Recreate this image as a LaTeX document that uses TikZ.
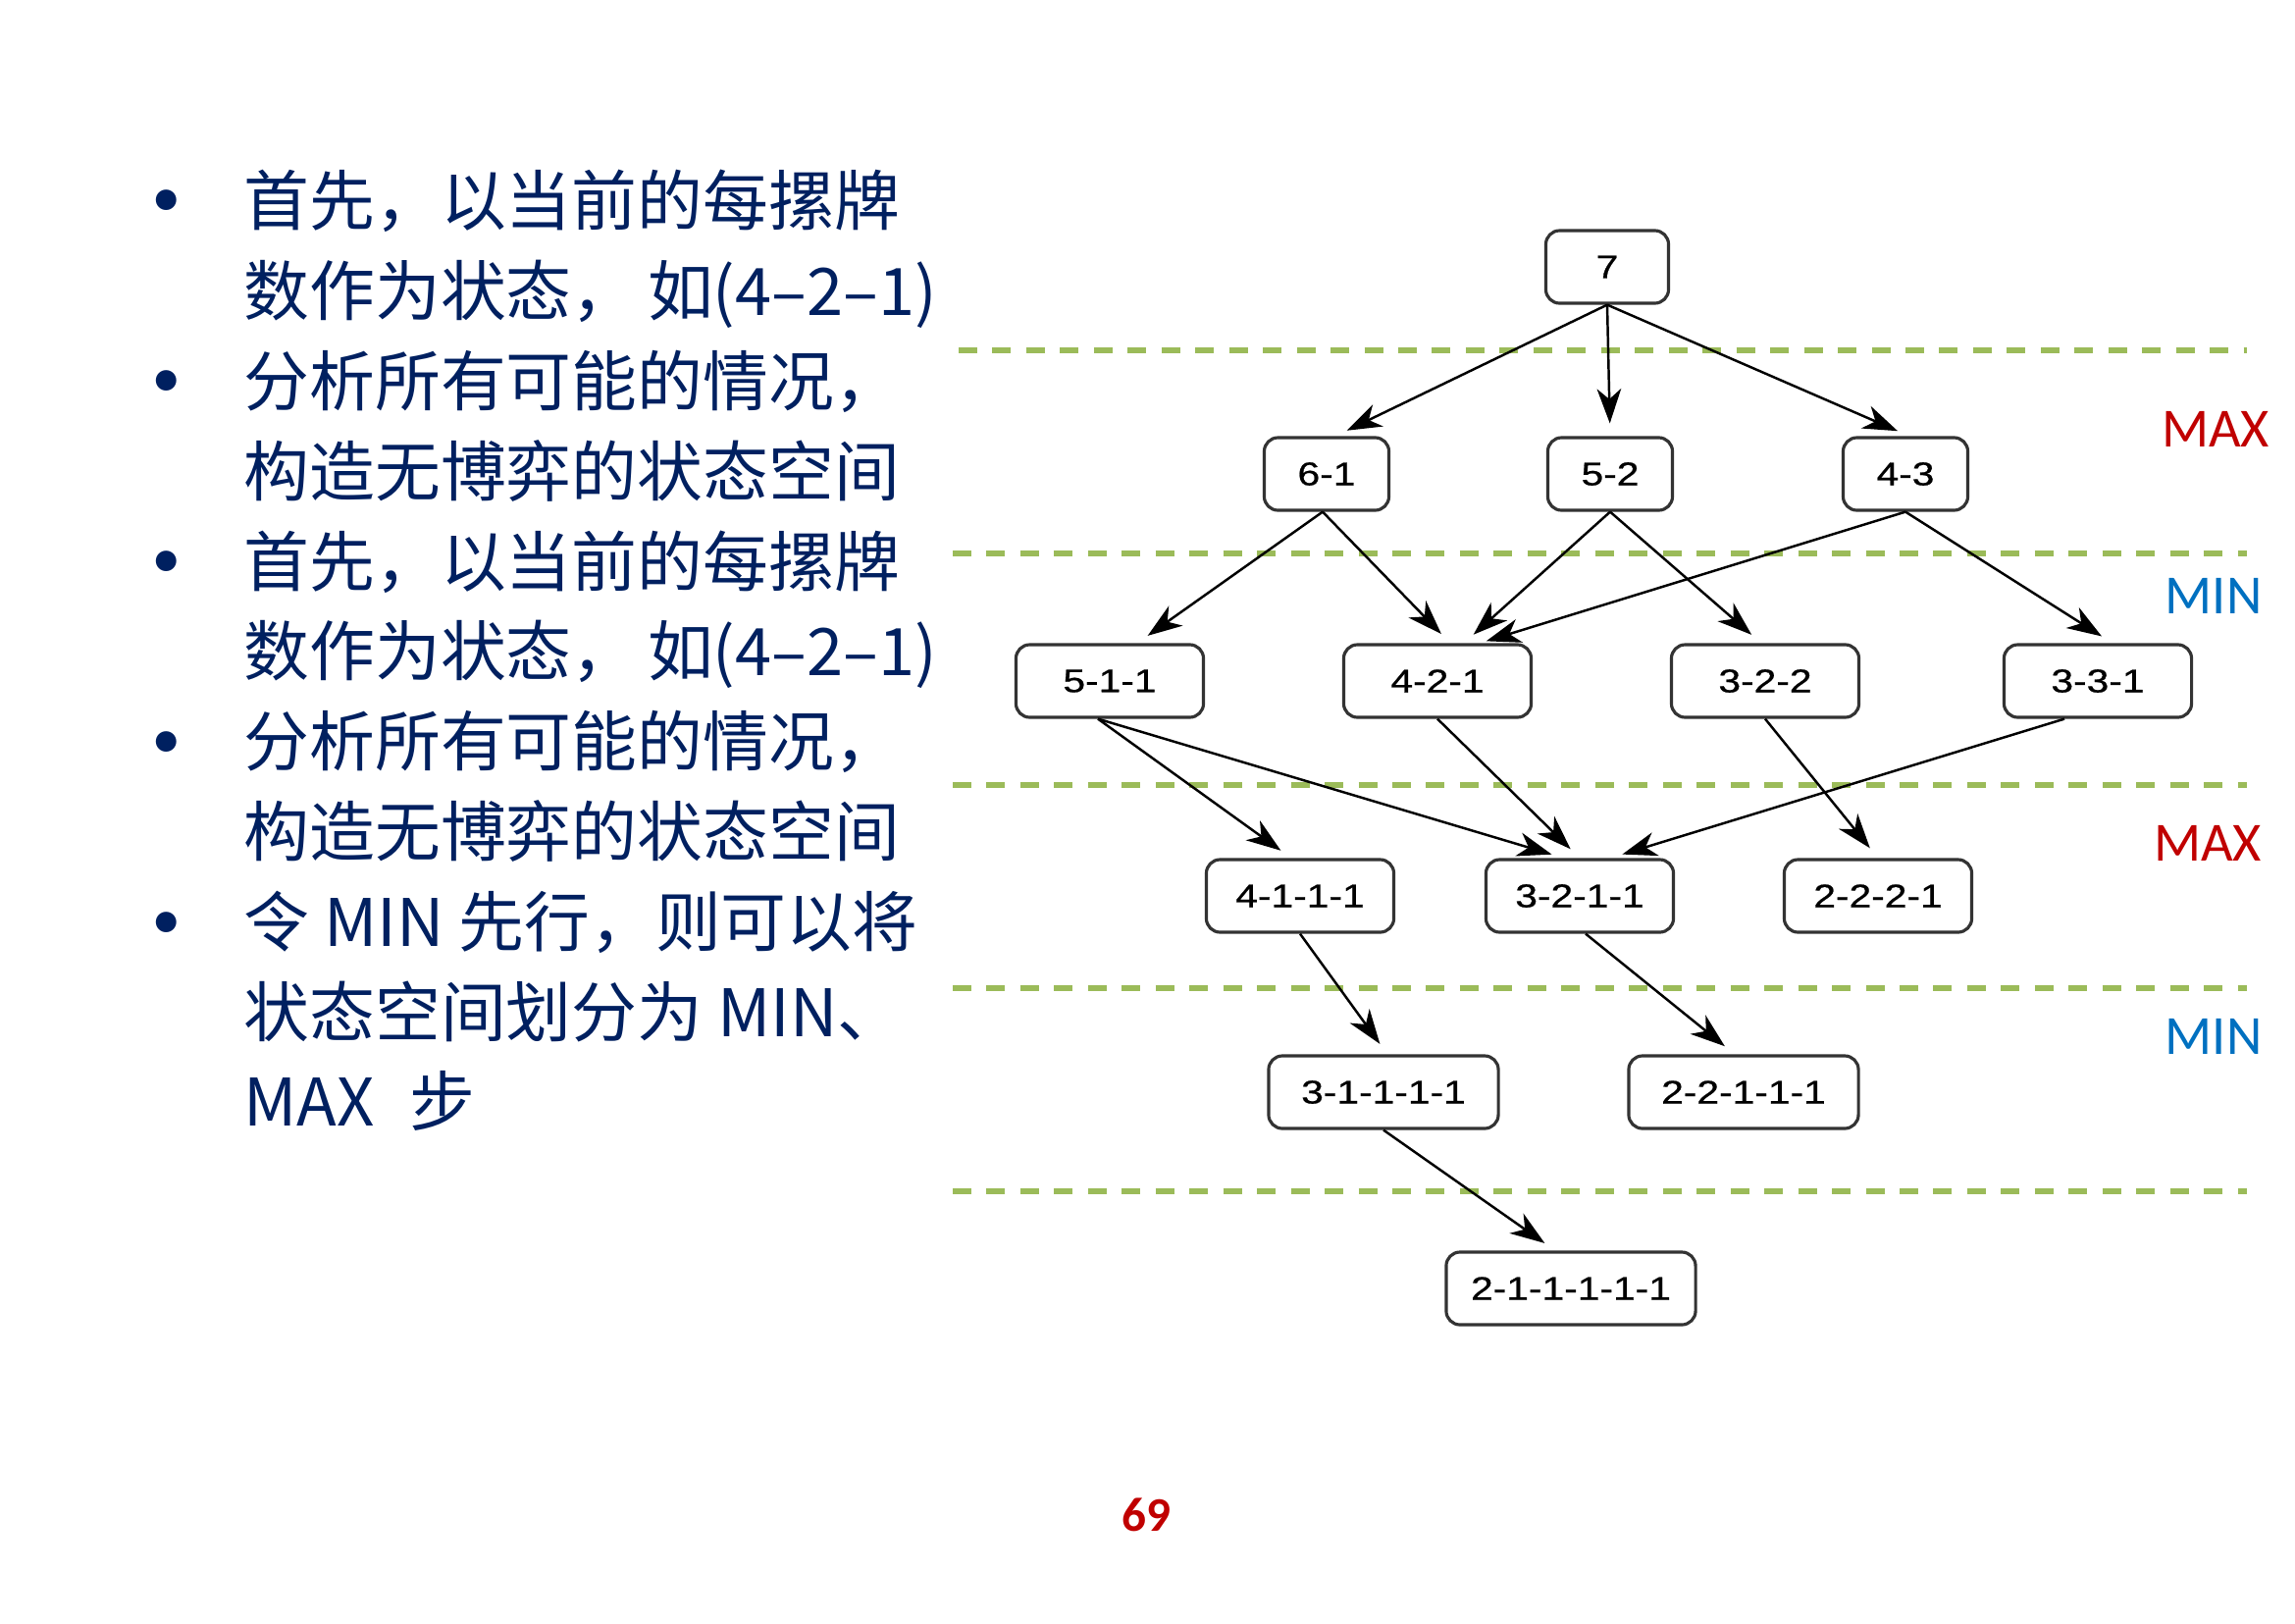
\documentclass[tikz,border=0pt]{standalone}
\usepackage{fontspec}
\setmainfont{Noto Sans CJK SC}
\newfontfamily\boxfont[FakeStretch=1.22,FakeBold=0.6]{Liberation Sans}
\newfontfamily\labfont{Carlito}
\usetikzlibrary{arrows.meta,calc}

\definecolor{navy}{RGB}{0,32,96}
\definecolor{maxred}{RGB}{192,0,0}
\definecolor{minblue}{RGB}{0,112,192}
\definecolor{dashgreen}{RGB}{155,187,89}

\tikzset{
  box/.style={draw=black!80, line width=0.9pt, rounded corners=4pt, fill=white,
    minimum height=0.74cm, inner sep=0pt, font=\boxfont\fontsize{9.5}{11}\selectfont},
  arr/.style={-{Stealth[length=10pt, width=7pt, inset=3pt]}, line width=0.7pt, shorten >=0.13cm},
  sepline/.style={dashgreen, line width=1.5pt, dash pattern=on 5.4pt off 4.4pt},
  txtline/.style={anchor=base west, text=navy, inner sep=0pt, font=\fontsize{19}{23}\selectfont},
  dot/.style={text=navy, inner sep=0pt, font=\fontsize{28}{30}\selectfont},
  maxlab/.style={text=maxred, inner sep=0pt, font=\labfont\fontsize{16}{18}\selectfont},
  minlab/.style={text=minblue, inner sep=0pt, font=\labfont\fontsize{16}{18}\selectfont}
}

\begin{document}
\begin{tikzpicture}[x=0.01cm, y=-0.01cm]
  \useasboundingbox (0,0) rectangle (2339,1654);

  % left text
  \node[dot] (b1) at (170,218) {•};
  \node[dot] (b2) at (170,402) {•};
  \node[dot] (b3) at (170,586) {•};
  \node[dot] (b4) at (170,770) {•};
  \node[dot] (b5) at (170,954) {•};
  \node[txtline] (t1) at (248,229) {首先，以当前的每摞牌};
  \node[txtline] (t2) at (248,321) {数作为状态，\hspace{3pt}如(4–2–1)};
  \node[txtline] (t3) at (248,413) {分析所有可能的情况，};
  \node[txtline] (t4) at (248,505) {构造无博弈的状态空间};
  \node[txtline] (t5) at (248,597) {首先，以当前的每摞牌};
  \node[txtline] (t6) at (248,688) {数作为状态，\hspace{3pt}如(4–2–1)};
  \node[txtline] (t7) at (248,780) {分析所有可能的情况，};
  \node[txtline] (t8) at (248,872) {构造无博弈的状态空间};
  \node[txtline] (t9) at (248,964) {令 MIN 先行，则可以将};
  \node[txtline] (t10) at (248,1056) {状态空间划分为 MIN、};
  \node[txtline] (t11) at (248,1147) {MAX\hspace{10pt}步};

  % level separators
  \draw[sepline] (977,357) -- (2290,357);
  \draw[sepline] (971,564) -- (2290,564);
  \draw[sepline] (971,800) -- (2290,800);
  \draw[sepline] (971,1007) -- (2290,1007);
  \draw[sepline] (971,1214) -- (2290,1214);

  \node[maxlab] (max1) at (2258,437) {MAX};
  \node[minlab] (min1) at (2256,607) {MIN};
  \node[maxlab] (max2) at (2250,859) {MAX};
  \node[minlab] (min2) at (2256,1056) {MIN};

  % states
  \node[box, minimum width=1.25cm] (n7) at (1638,272) {7};
  \node[box, minimum width=1.27cm] (n61) at (1352,483) {6-1};
  \node[box, minimum width=1.27cm] (n52) at (1641,483) {5-2};
  \node[box, minimum width=1.27cm] (n43) at (1942,483) {4-3};
  \node[box, minimum width=1.91cm] (n511) at (1131,694) {5-1-1};
  \node[box, minimum width=1.91cm] (n421) at (1465,694) {4-2-1};
  \node[box, minimum width=1.91cm] (n322) at (1799,694) {3-2-2};
  \node[box, minimum width=1.91cm] (n331) at (2138,694) {3-3-1};
  \node[box, minimum width=1.91cm] (n4111) at (1325,913) {4-1-1-1};
  \node[box, minimum width=1.91cm] (n3211) at (1610,913) {3-2-1-1};
  \node[box, minimum width=1.91cm] (n2221) at (1914,913) {2-2-2-1};
  \node[box, minimum width=2.34cm] (n31111) at (1410,1113) {3-1-1-1-1};
  \node[box, minimum width=2.34cm] (n22111) at (1777,1113) {2-2-1-1-1};
  \node[box, minimum width=2.54cm] (n211111) at (1601,1313) {2-1-1-1-1-1};

  % moves
  \draw[arr] (n7.south) -- ($(n61.north)+(9,0)$);
  \draw[arr] (n7.south) -- (n52.north);
  \draw[arr] (n7.south) -- ($(n43.north)+(4,0)$);
  \draw[arr] ($(n61.south)+(-4,0)$) -- ($(n511.north)+(28,0)$);
  \draw[arr] ($(n61.south)+(-4,0)$) -- ($(n421.north)+(13,0)$);
  \draw[arr] (n52.south) -- ($(n421.north)+(27,0)$);
  \draw[arr] (n52.south) -- ($(n322.north)+(-4,0)$);
  \draw[arr, shorten >=0.07cm] (n43.south) -- ($(n421.north)+(43,0)$);
  \draw[arr] (n43.south) -- ($(n331.north)+(15,0)$);
  \draw[arr] ($(n511.south)+(-12,0)$) -- ($(n4111.north)+(-9,0)$);
  \draw[arr] ($(n511.south)+(-12,0)$) -- ($(n3211.north)+(-16,0)$);
  \draw[arr] (n421.south) -- (n3211.north);
  \draw[arr] ($(n331.south)+(-34,0)$) -- ($(n3211.north)+(31,0)$);
  \draw[arr] (n322.south) -- (n2221.north);
  \draw[arr] (n4111.south) -- ($(n31111.north)+(4,0)$);
  \draw[arr] ($(n3211.south)+(6,0)$) -- ($(n22111.north)+(-9,0)$);
  \draw[arr] (n31111.south) -- ($(n211111.north)+(-16,0)$);

  \node[text=maxred, font=\labfont\bfseries\fontsize{14}{16}\selectfont] (page) at (1168,1544) {69};
\end{tikzpicture}
\end{document}
